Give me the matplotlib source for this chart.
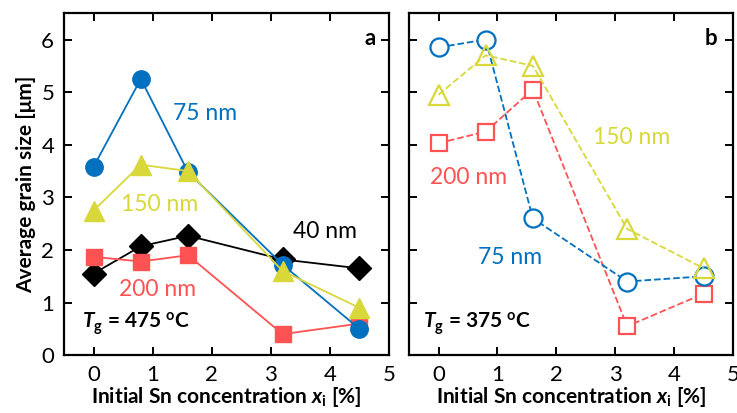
import matplotlib
matplotlib.use('Agg')
import matplotlib.pyplot as plt
from matplotlib.ticker import MultipleLocator

plt.rcParams['font.family'] = ['Lato', 'DejaVu Sans']
plt.rcParams['mathtext.fontset'] = 'custom'
plt.rcParams['mathtext.rm'] = 'Lato'
plt.rcParams['mathtext.it'] = 'Lato:italic'
plt.rcParams['mathtext.bf'] = 'Lato:bold'
plt.rcParams['mathtext.bfit'] = 'Lato:bold:italic'

# Initial Sn concentration [%]
x_sn = [0, 0.8, 1.6, 3.2, 4.5]

# panel a: Tg = 475 C
a_75 = [3.58, 5.25, 3.48, 1.72, 0.50]
a_150 = [2.75, 3.62, 3.50, 1.60, 0.90]
a_40 = [1.55, 2.07, 2.27, 1.82, 1.65]
a_200 = [1.87, 1.78, 1.90, 0.40, 0.60]

# panel b: Tg = 375 C
b_75 = [5.85, 6.00, 2.60, 1.40, 1.50]
b_150 = [4.95, 5.70, 5.50, 2.40, 1.65]
b_200 = [4.03, 4.25, 5.05, 0.55, 1.17]

blue = '#0070C0'
yellow = '#D8D83A'
red = '#FF5252'

fig = plt.figure(figsize=(7.37, 4.13), dpi=100)
ax1 = fig.add_axes([0.0868, 0.140, 0.441, 0.828])
ax2 = fig.add_axes([0.555, 0.140, 0.440, 0.828])

# left panel: filled markers, solid lines
ax1.plot(x_sn, a_40, color='black', lw=1.3, marker='D', ms=12, zorder=3)
ax1.plot(x_sn, a_200, color=red, lw=1.3, marker='s', ms=12, zorder=3)
ax1.plot(x_sn, a_75, color=blue, lw=1.3, marker='o', ms=12.5, zorder=3)
ax1.plot(x_sn, a_150, color=yellow, lw=1.3, marker='^', ms=14, zorder=3)

# right panel: open markers, dashed lines
ax2.plot(x_sn, b_200, color=red, lw=1.3, ls='--', marker='s', ms=11.5,
         mfc='white', mew=1.6, zorder=3)
ax2.plot(x_sn, b_75, color=blue, lw=1.3, ls='--', marker='o', ms=13,
         mfc='white', mew=1.6, zorder=3)
ax2.plot(x_sn, b_150, color=yellow, lw=1.3, ls='--', marker='^', ms=15,
         mfc='none', mew=1.6, zorder=3)

for ax in (ax1, ax2):
    ax.set_xlim(-0.5, 5)
    ax.set_ylim(0, 6.5)
    ax.xaxis.set_major_locator(MultipleLocator(1))
    ax.yaxis.set_major_locator(MultipleLocator(1))
    ax.tick_params(axis='both', which='major', direction='in', length=6,
                   width=1.4, top=True, right=True, labelsize=16, pad=7)
    for sp in ax.spines.values():
        sp.set_linewidth(1.6)
    ax.set_xlabel(r'Initial Sn concentration $\mathbfit{x}_\mathbf{i}$ [%]',
                  fontsize=15, fontweight='bold', labelpad=0)

ax1.set_ylabel('Average grain size [μm]', fontsize=15, fontweight='bold', labelpad=4)
ax2.tick_params(axis='y', labelleft=False)

# labels panel a
ax1.text(1.88, 4.6, '75 nm', color=blue, fontsize=16.5, ha='center', va='center')
ax1.text(1.12, 2.87, '150 nm', color=yellow, fontsize=16.5, ha='center', va='center')
ax1.text(3.92, 2.36, '40 nm', color='black', fontsize=16.5, ha='center', va='center')
ax1.text(1.08, 1.25, '200 nm', color=red, fontsize=16.5, ha='center', va='center')
ax1.text(-0.2, 0.6, r'$\mathbfit{T}_\mathbf{g}$ = 475 $^\mathbf{o}$C',
         fontsize=15, fontweight='bold', ha='left', va='center')
ax1.text(4.78, 6.02, 'a', fontsize=16, fontweight='bold', ha='right', va='center')

# labels panel b
ax2.text(3.27, 4.14, '150 nm', color=yellow, fontsize=16.5, ha='center', va='center')
ax2.text(0.51, 3.38, '200 nm', color=red, fontsize=16.5, ha='center', va='center')
ax2.text(1.22, 1.85, '75 nm', color=blue, fontsize=16.5, ha='center', va='center')
ax2.text(-0.26, 0.6, r'$\mathbfit{T}_\mathbf{g}$ = 375 $^\mathbf{o}$C',
         fontsize=15, fontweight='bold', ha='left', va='center')
ax2.text(4.72, 6.02, 'b', fontsize=16, fontweight='bold', ha='right', va='center')

fig.savefig('out.png', dpi=100)
